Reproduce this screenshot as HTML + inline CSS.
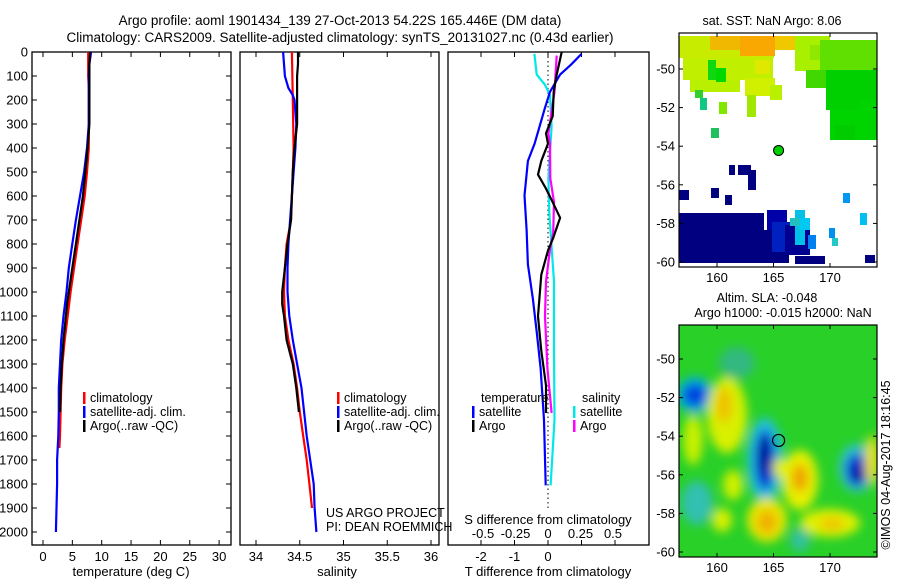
<!DOCTYPE html>
<html><head><meta charset="utf-8"><style>
body{margin:0;background:#fff;}
svg{display:block;font-family:"Liberation Sans",sans-serif;}
</style></head><body>
<svg id="c" width="900" height="580" viewBox="0 0 900 580" xmlns="http://www.w3.org/2000/svg">
<defs>
<filter id="bl" x="-50%" y="-50%" width="200%" height="200%"><feGaussianBlur stdDeviation="5"/></filter>
<clipPath id="mc2"><rect x="679" y="325" width="198" height="232"/></clipPath>
<clipPath id="mc1"><rect x="679" y="33" width="198" height="234"/></clipPath>
</defs>
<text x="340" y="25" font-size="13.5" text-anchor="middle">Argo profile: aoml 1901434_139 27-Oct-2013 54.22S 165.446E (DM data)</text>
<text x="340" y="42" font-size="13.5" text-anchor="middle">Climatology: CARS2009. Satellite-adjusted climatology: synTS_20131027.nc (0.43d earlier)</text>
<g id="p1"></g>
<g id="p2"></g>
<g id="p3"></g>
<g id="m1" clip-path="url(#mc1)"></g>
<g id="m2" clip-path="url(#mc2)"></g>
<g id="ax"></g>
</svg>
<script>
// ---- data ----
const depthsT = [0,50,100,150,200,300,400,500,600,700,800,900,1000,1100,1200,1300,1400,1500,1600,1650];
const tempClim = [7.7,7.7,7.7,7.8,7.8,7.8,7.8,7.5,7.1,6.5,5.9,5.3,4.7,4.2,3.7,3.3,3.1,3.0,2.9,2.8];
const depthsFull = [0,50,100,150,200,300,400,500,600,700,800,900,1000,1100,1200,1300,1400,1500,1600,1700,1800,1900,2000];
const tempSat = [8.2,7.9,7.8,7.8,7.8,7.8,7.5,7.0,6.3,5.6,5.0,4.4,4.0,3.5,3.1,2.9,2.7,2.7,2.6,2.4,2.4,2.3,2.2];
const depthsArgo = [0,50,100,150,200,300,400,500,600,700,800,900,1000,1050,1100,1200,1300,1400,1500];
const tempArgo = [8.0,7.9,7.9,7.9,7.9,7.9,7.6,7.2,6.8,6.2,5.6,5.0,4.4,4.1,3.9,3.5,3.2,3.0,2.9];
const depthsSClim = [0,200,400,500,600,700,800,900,1000,1100,1200,1300,1400,1500,1600,1700,1800,1900];
const salClim = [34.41,34.42,34.43,34.42,34.41,34.40,34.35,34.33,34.32,34.33,34.37,34.43,34.47,34.50,34.54,34.58,34.61,34.64];
const depthsSSat = [0,50,100,150,180,200,300,400,500,600,700,800,900,1000,1100,1200,1300,1400,1500,1600,1700,1800,1900,2000];
const salSat = [34.31,34.32,34.33,34.37,34.42,34.44,34.46,34.45,34.43,34.41,34.39,34.37,34.36,34.36,34.38,34.42,34.47,34.52,34.55,34.58,34.62,34.66,34.67,34.69];
const salArgo = [34.48,34.48,34.47,34.47,34.47,34.47,34.44,34.42,34.41,34.40,34.36,34.33,34.30,34.30,34.32,34.35,34.42,34.46,34.49];
const dTsatDepth = [8,51,94,166,238,382,454,598,741,885,1029,1173,1317,1533,1806];
const dTsat = [1.0,0.7,0.36,0.06,-0.1,-0.4,-0.6,-0.7,-0.64,-0.6,-0.45,-0.33,-0.22,-0.12,-0.07];
const dTargoDepth = [0,94,166,267,339,382,454,511,569,626,691,777,827,928,1101,1245,1389,1504];
const dTargo = [0.41,0.26,0.17,0.14,-0.06,0.0,-0.2,-0.3,-0.06,0.14,0.36,0.15,0.0,-0.2,-0.3,-0.2,-0.06,-0.06];
const dSsatDepth = [8,94,137,180,310,526,670,813,957,1245,1533,1806];
const dSsat = [-0.105,-0.087,-0.023,0.015,0.028,0.003,0.01,0.028,0.046,0.046,0.05,0.02];
const dSargoDepth = [15,166,339,382,526,626,756,813,957,1101,1317,1504];
const dSargo = [0.067,0.05,0.003,0.015,0.018,0.046,0.04,0.018,-0.015,-0.023,-0.005,0.028];
const depthTicks = [0,100,200,300,400,500,600,700,800,900,1000,1100,1200,1300,1400,1500,1600,1700,1800,1900,2000];
const tTicks = [0,5,10,15,20,25,30];
const sTicks = [34,34.5,35,35.5,36];
const dTTicks = [-2,-1,0,1,2];
const dTLabels = ['-2','-1','0','',''];
const dSTicks = [-0.5,-0.25,0,0.25,0.5];
const latTicks = [-50,-52,-54,-56,-58,-60];
const lonTicks = [160,165,170];

// ---- scales ----
const yD = d => 52 + d*0.24;
const xT = v => 43 + v*5.87;
const xS = v => 256 + (v-34)*87.5;
const xDT = v => 548 + v*33.5;
const xDS = v => 548 + v*130;
const xLon = v => 717 + (v-160)*11.3;
const yLat1 = v => 69 + (-50 - v)*19.3;
const yLat2 = v => 359 + (-50 - v)*19.3;

const NS='http://www.w3.org/2000/svg';
function mk(parent, tag, attrs, txt){const e=document.createElementNS(NS,tag);for(const k in attrs)e.setAttribute(k,attrs[k]);if(txt!==undefined)e.textContent=txt;parent.appendChild(e);return e;}
function line(g, xs, ds, xf, col, name){
  const pts = xs.map((v,i)=>xf(v).toFixed(1)+','+yD(ds[i]).toFixed(1)).join(' ');
  const e = mk(g,'polyline',{points:pts,fill:'none',stroke:col,'stroke-width':2.2});
  
  
}
const P1=document.getElementById('p1'),P2=document.getElementById('p2'),P3=document.getElementById('p3'),AX=document.getElementById('ax');

// panel frames
function frame(g,x0,x1,name){const r=mk(g,'rect',{x:x0,y:52,width:x1-x0,height:493,fill:'none',stroke:'#000','stroke-width':1.3});

}
frame(P1,32,231,'temperature-frame');frame(P2,240,439,'salinity-frame');frame(P3,448,649,'difference-frame');

// depth ticks
depthTicks.forEach(d=>{const y=yD(d);
  mk(P1,'line',{x1:32,x2:37,y1:y,y2:y,stroke:'#000'});mk(P1,'line',{x1:226,x2:231,y1:y,y2:y,stroke:'#000'});
  const t=mk(P1,'text',{x:28,y:y+4.5,'font-size':13,'text-anchor':'end'},String(d));
  
  
});
function xticks(g,ticks,labels,f,ly){ticks.forEach((v,i)=>{const x=f(v);
  mk(g,'line',{x1:x,x2:x,y1:52,y2:57,stroke:'#000'});mk(g,'line',{x1:x,x2:x,y1:540,y2:545,stroke:'#000'});
  const t=mk(g,'text',{x:x,y:ly,'font-size':13,'text-anchor':'middle'},labels[i]);
  
  
});}
xticks(P1,tTicks,tTicks.map(String),xT,561);
xticks(P2,sTicks,sTicks.map(String),xS,561);
xticks(P3,dTTicks,dTLabels,xDT,561);
dSTicks.forEach(v=>{const t=mk(P3,'text',{x:xDS(v),y:538,'font-size':13,'text-anchor':'middle'},String(v));
  
  });
[['temperature (deg C)',131,576],['salinity',337,576],['T difference from climatology',548,576],['S difference from climatology',548,524]].forEach(a=>{
  const t=mk(AX,'text',{x:a[1],y:a[2],'font-size':13,'text-anchor':'middle'},a[0]);
  
  });

// profiles
line(P1,tempClim,depthsT,xT,'#f00','temp-climatology');
line(P1,tempSat,depthsFull,xT,'#00f','temp-satellite');
line(P1,tempArgo,depthsArgo,xT,'#000','temp-argo');
line(P2,salClim,depthsSClim,xS,'#f00','sal-climatology');
line(P2,salSat,depthsSSat,xS,'#00f','sal-satellite');
line(P2,salArgo,depthsArgo,xS,'#000','sal-argo');
mk(P3,'line',{x1:548,x2:548,y1:52,y2:yD(1905),stroke:'#000','stroke-dasharray':'1.5 3'});
line(P3,dSsat,dSsatDepth,xDS,'#00e8e8','s-diff-satellite');
line(P3,dSargo,dSargoDepth,xDS,'#f0f','s-diff-argo');
line(P3,dTsat,dTsatDepth,xDT,'#00f','t-diff-satellite');
line(P3,dTargo,dTargoDepth,xDT,'#000','t-diff-argo');

// legends
function leg(g,x,y,col,txt){mk(g,'rect',{x:x,y:y-10,width:2.5,height:12,fill:col});const t=mk(g,'text',{x:x+7,y:y,'font-size':12.5},txt);
  
  }
[[83,'climatology','#f00'],[83,'satellite-adj. clim.','#00f'],[83,'Argo(..raw -QC)','#000']].forEach((a,i)=>{leg(P1,a[0],402+i*14,a[2],a[1]);leg(P2,337,402+i*14,a[2],a[1]);});
mk(P3,'text',{x:481,y:402,'font-size':12.5},'temperature');
mk(P3,'text',{x:582,y:402,'font-size':12.5},'salinity');
leg(P3,472,416,'#00f','satellite');leg(P3,472,430,'#000','Argo');
leg(P3,573,416,'#00e8e8','satellite');leg(P3,573,430,'#f0f','Argo');
mk(P2,'text',{x:326,y:517,'font-size':12.5},'US ARGO PROJECT');
mk(P2,'text',{x:326,y:531,'font-size':12.5},'PI: DEAN ROEMMICH');

// ---- map 1 (SST) ----
const M1=document.getElementById('m1');
mk(M1,'rect',{x:679,y:33,width:198,height:234,fill:'#fff'});
const sst=[
 [679,36,95,22,'#c8ec00'],[710,36,60,14,'#f0b800'],[740,36,35,20,'#f8a800'],[775,36,25,14,'#f0c800'],
 [683,58,90,22,'#c0f000'],[690,80,50,12,'#b8f000'],[708,60,8,20,'#10d810'],[716,68,10,14,'#00d800'],
 [745,78,30,18,'#d0f000'],[755,60,15,14,'#e0e800'],[770,85,12,15,'#b8f000'],[747,95,9,22,'#a0e800'],
 [695,90,8,8,'#30d030'],[700,98,7,12,'#10c880'],[719,102,8,12,'#80e800'],[711,128,8,10,'#20c060'],
 [795,36,35,35,'#a8f000'],[810,45,67,15,'#90e800'],[820,40,57,30,'#60e000'],[826,70,51,40,'#00d000'],
 [830,110,40,30,'#00d400'],[835,125,20,15,'#00cc00'],[860,100,17,40,'#00d400'],[806,70,20,18,'#40d800'],
 [729,165,6,10,'#000080'],[738,165,13,10,'#000080'],[748,170,8,20,'#000080'],[711,188,8,10,'#000080'],
 [679,190,10,10,'#000080'],[725,195,7,10,'#000080'],
 [679,213,85,50,'#000080'],[679,230,110,33,'#000080'],[767,210,20,20,'#0000a8'],[772,222,25,30,'#0020c0'],
 [785,225,25,30,'#000090'],[795,210,10,35,'#00c0e8'],[790,218,15,8,'#20c0c0'],[800,218,10,12,'#00c8f0'],
 [808,235,8,14,'#0080f0'],[829,228,6,10,'#0090f0'],[832,238,6,8,'#20c8c8'],[843,193,7,10,'#0098f0'],
 [860,213,7,12,'#00c0f0'],[865,255,10,8,'#000080'],[795,256,30,8,'#000080']
];
sst.forEach(r=>mk(M1,'rect',{x:r[0],y:r[1],width:r[2],height:r[3],fill:r[4]}));
const c1=mk(M1,'circle',{cx:xLon(165.45),cy:yLat1(-54.22),r:5,fill:'#00d000',stroke:'#000','stroke-width':1});



// ---- map 2 (SLA) ----
const M2=document.getElementById('m2');
mk(M2,'rect',{x:679,y:325,width:198,height:232,fill:'#28d028'});
const gb=mk(M2,'g',{filter:'url(#bl)'});
const blobs=[
 [737,363,18,16,'#30b880'],[697,503,16,22,'#30c0b0'],[695,395,18,18,'#00b0e0'],[695,395,12,11,'#0040e0'],
 [727,415,20,38,'#d8f000'],[724,405,8,18,'#f0c000'],[693,440,10,25,'#c8f000'],[733,485,10,15,'#d0f000'],
 [765,460,18,42,'#20c0e0'],[765,460,10,30,'#0030d0'],[764,455,5,20,'#000090'],
 [857,468,18,24,'#30c0d0'],[857,470,11,16,'#0030d0'],[858,474,5,8,'#000090'],
 [800,480,18,30,'#e8f000'],[800,478,8,14,'#f0a000'],[780,468,7,10,'#e0f000'],
 [767,520,20,22,'#e8e800'],[767,522,10,12,'#f0b000'],[830,523,30,14,'#e0f000'],[832,524,12,6,'#f0c000'],
 [722,520,10,12,'#d8f000'],[872,460,7,25,'#e8e000'],[800,540,10,12,'#30c0a0']
];
blobs.forEach(b=>mk(gb,'ellipse',{cx:b[0],cy:b[1],rx:b[2],ry:b[3],fill:b[4]}));
const c2=mk(M2,'circle',{cx:xLon(165.45),cy:yLat2(-54.22),r:6,fill:'none',stroke:'#000','stroke-width':1.2});



// map frames & ticks
function mapAxes(y0,h,yf,name){
  const r=mk(AX,'rect',{x:679,y:y0,width:198,height:h,fill:'none',stroke:'#000','stroke-width':1.2});
  
  
  latTicks.forEach(v=>{const y=yf(v);mk(AX,'line',{x1:679,x2:683,y1:y,y2:y,stroke:'#000'});mk(AX,'line',{x1:873,x2:877,y1:y,y2:y,stroke:'#000'});
    const t=mk(AX,'text',{x:675,y:y+4.5,'font-size':13,'text-anchor':'end'},String(v));
    
    });
  lonTicks.forEach(v=>{const x=xLon(v);mk(AX,'line',{x1:x,x2:x,y1:y0,y2:y0+4,stroke:'#000'});mk(AX,'line',{x1:x,x2:x,y1:y0+h-4,y2:y0+h,stroke:'#000'});
    const t=mk(AX,'text',{x:x,y:y0+h+15,'font-size':13,'text-anchor':'middle'},String(v));
    
    });
}
mapAxes(33,234,yLat1,'sst-map-frame');
mapAxes(325,232,yLat2,'sla-map-frame');
mk(AX,'text',{x:772,y:25,'font-size':12.5,'text-anchor':'middle'},'sat. SST: NaN Argo: 8.06');
mk(AX,'text',{x:767,y:302,'font-size':12.5,'text-anchor':'middle'},'Altim. SLA: -0.048');
mk(AX,'text',{x:783,y:317,'font-size':12.5,'text-anchor':'middle'},'Argo h1000: -0.015 h2000: NaN');
mk(AX,'text',{x:0,y:0,'font-size':12.5,'text-anchor':'middle',transform:'translate(890,465) rotate(-90)'},'©IMOS 04-Aug-2017 18:16:45');
</script>
</body></html>
